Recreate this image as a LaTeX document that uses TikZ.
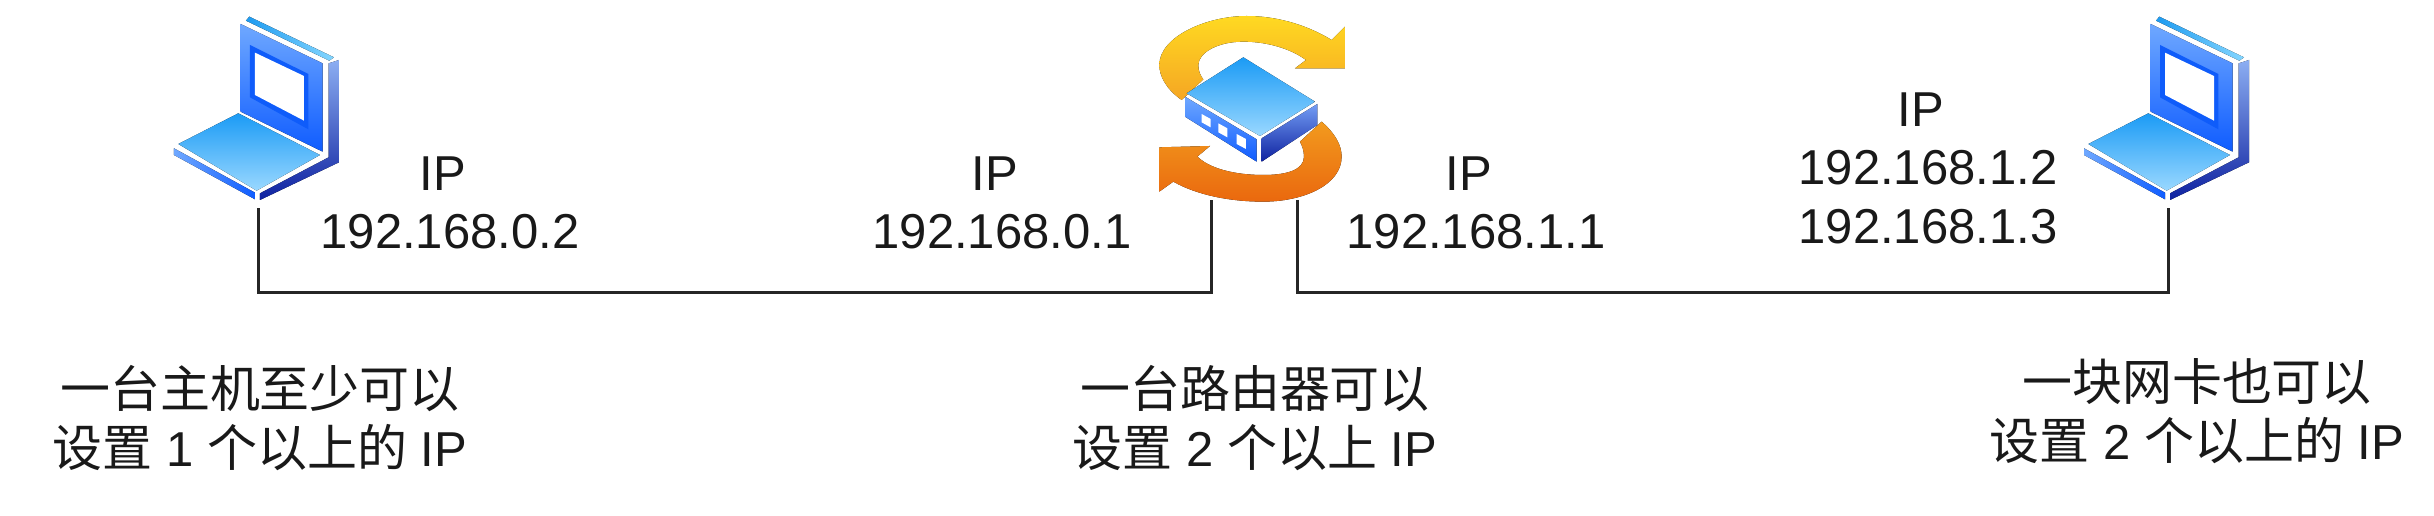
\documentclass[tikz,border=0pt]{standalone}
\usepackage{fontspec}
\setmainfont{Liberation Sans}
\newfontfamily\cjk[Scale=1.02]{Noto Sans CJK SC}
\tikzset{
  wire/.style={line width=3pt,draw=black!85,line join=miter},
  lbl/.style={inner sep=0pt,outer sep=0pt,align=center,text=black!90,font=\fontsize{49}{58.5}\selectfont},
  laptop/.pic={
    % lid top strip
    \fill[left color=blue1,right color=blue2] (438,62) -- (448,50) -- (702,172) -- (688,182) -- cycle;
    % lid face
    \fill[top color=panelT,bottom color=panelB] (422,72) -- (668,190) -- (668,455) -- (422,335) -- cycle;
    % screen rim and screen
    \fill[holeB] (450,135) -- (625,222) -- (625,388) -- (450,292) -- cycle;
    \fill[white] (465,158) -- (612,228) -- (612,362) -- (465,285) -- cycle;
    % hinge side
    \fill[top color=sideT,bottom color=sideB] (686,190) -- (717,180) -- (717,487) -- (480,600) -- (480,580) -- (686,472) -- cycle;
    % base top
    \fill[top color=baseT,bottom color=baseB] (235,432) -- (415,340) -- (660,465) -- (470,572) -- cycle;
    % base front edge
    \fill[left color=panelT,right color=panelB] (222,445) -- (465,578) -- (465,598) -- (222,465) -- cycle;
  },
}
\definecolor{blue1}{HTML}{1E9BF0}
\definecolor{blue2}{HTML}{85D6FF}
\definecolor{panelT}{HTML}{6FA8FF}
\definecolor{panelB}{HTML}{0F5CFF}
\definecolor{holeB}{HTML}{0F5CFA}
\definecolor{sideT}{HTML}{8CAEF2}
\definecolor{sideB}{HTML}{0F22A0}
\definecolor{baseT}{HTML}{1B9BF5}
\definecolor{baseB}{HTML}{9AD8FF}
\definecolor{yelT}{HTML}{FFD922}
\definecolor{yelB}{HTML}{F5A623}
\definecolor{orgT}{HTML}{F29A1E}
\definecolor{orgB}{HTML}{EA680E}
\begin{document}
\begin{tikzpicture}[x=1pt,y=-1pt]
\useasboundingbox (0,0) rectangle (2434,516);
% left laptop
\begin{scope}[shift={(100,0)},x=0.3333pt,y=-0.3333pt]
  \pic {laptop};
\end{scope}
% right laptop
\begin{scope}[shift={(2010,0)},x=0.3333pt,y=-0.3333pt]
  \pic {laptop};
\end{scope}
% router
\begin{scope}[shift={(1100,0)},x=0.3333pt,y=-0.3333pt]
  \fill[top color=yelT,bottom color=yelB] (245,300) .. controls (195,265) and (178,225) .. (178,195)
     .. controls (178,110) and (320,48) .. (440,48)
     .. controls (540,48) and (630,80) .. (695,120)
     -- (735,80) -- (735,205) -- (585,205) -- (618,180)
     .. controls (570,145) and (500,125) .. (430,125)
     .. controls (350,125) and (295,160) .. (295,195)
     .. controls (295,215) and (302,228) .. (310,238) -- cycle;
  \fill[top color=orgT,bottom color=orgB] (665,365) .. controls (705,400) and (725,435) .. (725,470)
     .. controls (725,555) and (610,605) .. (490,605)
     .. controls (390,605) and (290,585) .. (220,545)
     -- (178,575) -- (178,442) -- (330,438) -- (292,470)
     .. controls (340,515) and (430,525) .. (490,525)
     .. controls (560,525) and (612,510) .. (612,470)
     .. controls (612,450) and (605,435) .. (600,425) -- cycle;
  \fill[top color=baseT!100,bottom color=baseB] (430,172) -- (645,305) -- (480,408) -- (260,280) -- cycle;
  \fill[top color=panelT,bottom color=panelB] (255,290) -- (470,418) -- (470,485) -- (255,350) -- cycle;
  \fill[top color=sideT!80!panelB,bottom color=sideB] (485,415) -- (652,312) -- (652,375) -- (485,485) -- cycle;
  \fill[white] (305,342) -- (332,357) -- (332,382) -- (305,367) -- cycle;
  \fill[white] (355,370) -- (382,385) -- (382,412) -- (355,397) -- cycle;
  \fill[white] (410,402) -- (438,417) -- (438,447) -- (410,432) -- cycle;
\end{scope}
% connector ends
\coordinate (hostA) at (258,208);
\coordinate (routerL) at (1211,200);
\coordinate (busL) at (1211,292);
\coordinate (routerR) at (1297,200);
\coordinate (busR) at (1297,292);
\coordinate (hostB) at (2168,208);
\draw[wire] (hostA) |- (busL) -- (routerL);
\draw[wire] (routerR) -- (busR) -| (hostB);
% address labels
\node[lbl] (ipa) at (450,203) {IP\hspace*{14pt}\\192.168.0.2};
\node[lbl] (ipb) at (1002,203) {IP\hspace*{14pt}\\192.168.0.1};
\node[lbl] (ipc) at (1476,203) {IP\hspace*{14pt}\\192.168.1.1};
\node[lbl] (ipd) at (1928,168) {IP\hspace*{14pt}\\192.168.1.2\\192.168.1.3};
% captions
\node[lbl] (capa) at (260,418) {{\cjk 一台主机至少可以}\\{\cjk 设置} 1 {\cjk 个以上的} IP};
\node[lbl] (capb) at (1255,418) {{\cjk 一台路由器可以}\\{\cjk 设置} 2 {\cjk 个以上} IP};
\node[lbl] (capc) at (2197,411) {{\cjk 一块网卡也可以}\\{\cjk 设置} 2 {\cjk 个以上的} IP};
\end{tikzpicture}
\end{document}
